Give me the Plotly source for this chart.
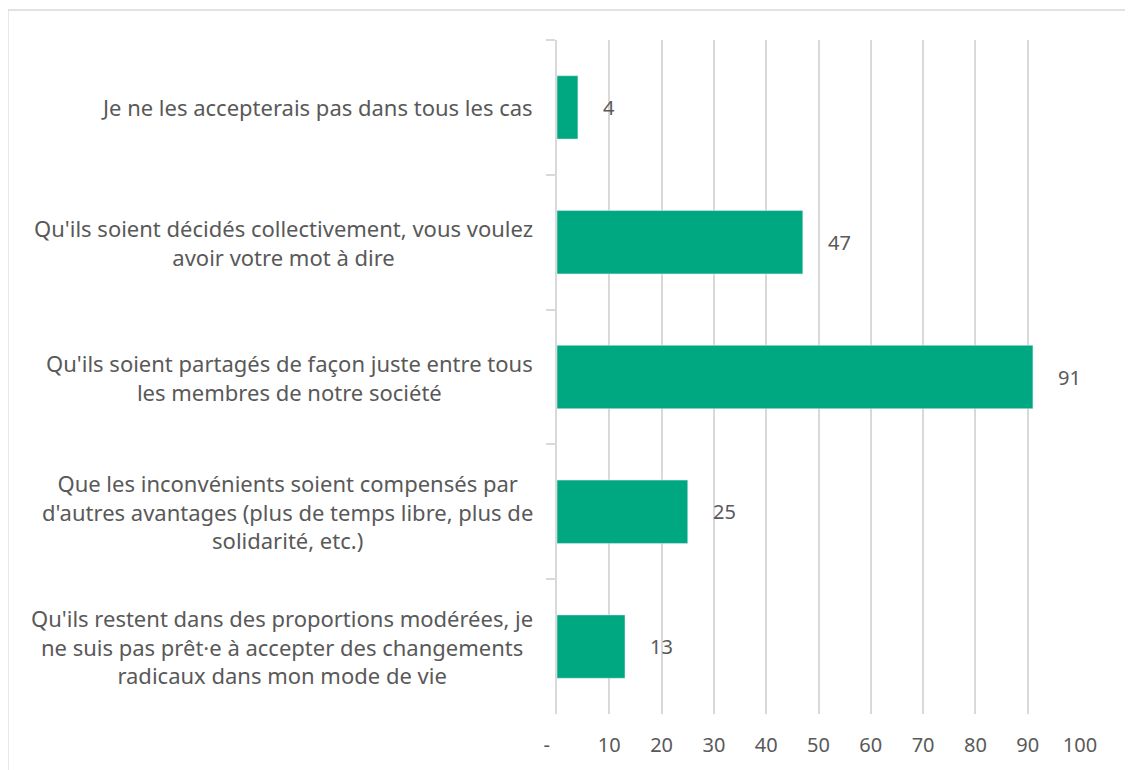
import plotly.graph_objects as go

categories = [
    "Je ne les accepterais pas dans tous les cas",
    "Qu'ils soient décidés collectivement, vous voulez<br>avoir votre mot à dire",
    "Qu'ils soient partagés de façon juste entre tous<br>les membres de notre société",
    "Que les inconvénients soient compensés par<br>d'autres avantages (plus de temps libre, plus de<br>solidarité, etc.)",
    "Qu'ils restent dans des proportions modérées, je<br>ne suis pas prêt·e à accepter des changements<br>radicaux dans mon mode de vie",
]
values = [4, 47, 91, 25, 13]
tick_vals = [0, 10, 20, 30, 40, 50, 60, 70, 80, 90, 100]
tick_text = ["-\u00a0\u00a0\u00a0\u00a0", "10", "20", "30", "40", "50", "60", "70", "80", "90", "100"]

font_family = "Noto Sans, Open Sans, sans-serif"
text_color = "#595959"
grid_color = "#d9d9d9"

fig = go.Figure(go.Bar(
    x=values,
    y=categories,
    orientation="h",
    width=0.47,
    marker_color="#00a881",
    hoverinfo="x+y",
))

# category labels (centered multi-line, right-anchored at the axis)
for cat in categories:
    fig.add_annotation(
        x=0, xref="paper", y=cat, yref="y",
        text=cat, showarrow=False, xanchor="right", align="center",
        xshift=-22, font=dict(family=font_family, size=22, color=text_color),
    )

# value labels
for cat, v in zip(categories, values):
    fig.add_annotation(
        x=v, y=cat, text=str(v), showarrow=False, xanchor="left",
        xshift=23, font=dict(family=font_family, size=20, color=text_color),
    )

# chart border (top and left edges visible)
fig.add_shape(
    type="path", xref="paper", yref="paper",
    path="M -1.05 -0.12 L -1.05 1.0445 L 1.2 1.0445",
    line=dict(color="#d9d9d9", width=1.5),
)

fig.update_layout(
    width=1133, height=770,
    margin=dict(l=549, r=61, t=32, b=64),
    plot_bgcolor="white", paper_bgcolor="white",
    showlegend=False,
    font=dict(family=font_family, size=20, color=text_color),
    xaxis=dict(
        range=[0, 100], tickvals=tick_vals, ticktext=tick_text,
        showgrid=True, gridcolor=grid_color, gridwidth=1.5,
        zeroline=False, showline=False, ticks="",
        ticklabelstandoff=17,
        tickfont=dict(family=font_family, size=20, color=text_color),
    ),
    yaxis=dict(
        autorange="reversed", showticklabels=False,
        showline=True, linecolor=grid_color, linewidth=1.5,
        ticks="outside", tickson="boundaries", ticklen=9,
        tickcolor=grid_color, tickwidth=1.5, showgrid=False,
    ),
)

fig.write_html("out.html")
